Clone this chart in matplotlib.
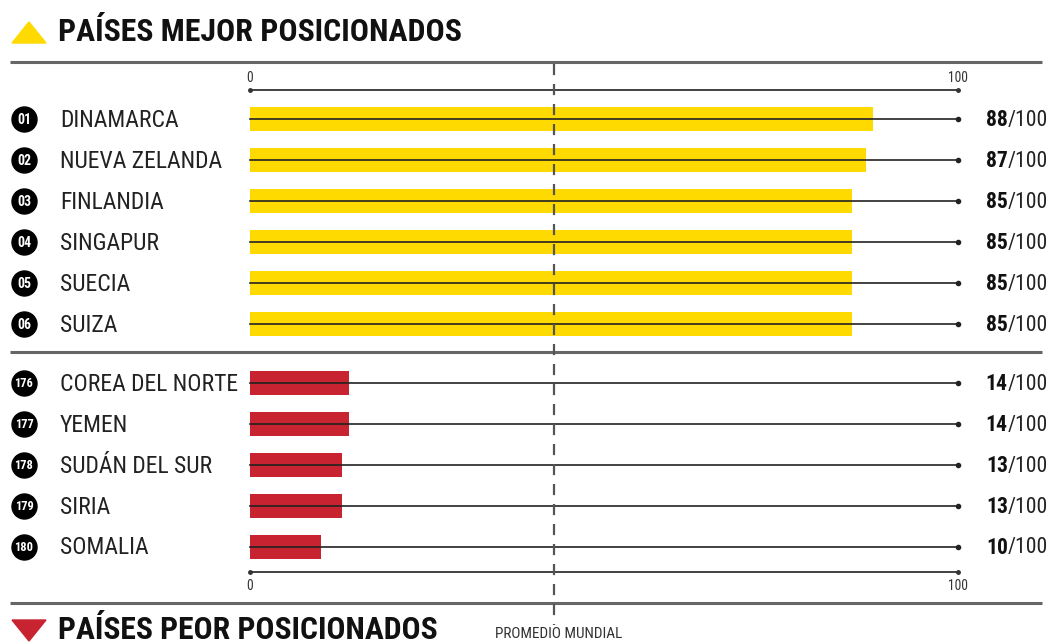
import matplotlib
matplotlib.use("Agg")
import matplotlib.pyplot as plt
from matplotlib import font_manager as fm
from matplotlib.patches import Polygon

avail = set(f.name for f in fm.fontManager.ttflist)
def pick(cands):
    for c in cands:
        if c in avail:
            return c
    return "DejaVu Sans"

FONT = pick(["Roboto Condensed", "Archivo Narrow", "Asap Condensed", "Liberation Sans Narrow", "Open Sans"])
plt.rcParams['font.family'] = [FONT, 'DejaVu Sans']

top_ranks = ["01", "02", "03", "04", "05", "06"]
top_countries = ["DINAMARCA", "NUEVA ZELANDA", "FINLANDIA", "SINGAPUR", "SUECIA", "SUIZA"]
top_scores = [88, 87, 85, 85, 85, 85]

bot_ranks = ["176", "177", "178", "179", "180"]
bot_countries = ["COREA DEL NORTE", "YEMEN", "SUDÁN DEL SUR", "SIRIA", "SOMALIA"]
bot_scores = [14, 14, 13, 13, 10]

world_avg = 43
max_score = 100

W, H = 1055, 644
fig = plt.figure(figsize=(W / 100, H / 100), dpi=100)
ax = fig.add_axes([0, 0, 1, 1])
px_per_unit = (958 - 250) / 100.0
x0 = -250 / px_per_unit
x1 = (W - 250) / px_per_unit
ax.set_xlim(x0, x1)
ax.set_ylim(H, 0)
ax.axis('off')
renderer = fig.canvas.get_renderer()

def px(p):
    return x0 + p / px_per_unit

def fit_size(s, target_w, weight='normal'):
    t = fig.text(0, 0, s, fontsize=20, fontweight=weight)
    w = t.get_window_extent(renderer=renderer).width
    t.remove()
    return 20 * target_w / w

YELLOW = "#FFDA00"
RED = "#C72330"

# separator lines
for yy in (62, 352, 603):
    ax.plot([px(10), px(1042)], [yy, yy], color="#666666", lw=2.2, solid_capstyle='butt')

# world average dashed line
ax.plot([world_avg, world_avg], [64, 625], color="#555555", lw=1.6, ls=(0, (5, 4)), zorder=4)

tick_fs = fit_size("100", 20)
for ya, yl in [(90, 78), (572, 586)]:
    ax.plot([0, max_score], [ya, ya], color="#333333", lw=1.3, zorder=3)
    ax.plot([0, max_score], [ya, ya], 'o', color="#333333", ms=2.5, zorder=3)
    ax.text(0, yl, "0", fontsize=tick_fs, ha='center', va='center', color="#333333")
    ax.text(max_score, yl, "100", fontsize=tick_fs, ha='center', va='center', color="#333333")

name_fs = fit_size("COREA DEL NORTE", 178)
score_fs_reg = fit_size("/100", 40)

def draw_rows(ranks, countries, scores, y_start, color, badge_fs):
    for i, (r, c, s) in enumerate(zip(ranks, countries, scores)):
        y = y_start + 41 * i
        ax.barh(y, s, height=24, left=0, color=color, zorder=2)
        ax.plot([0, max_score], [y, y], color="#222222", lw=1.2, zorder=3)
        ax.plot([max_score], [y], 'o', color="#222222", ms=3, zorder=3)
        ax.plot([px(24)], [y], 'o', color='black', ms=18, zorder=3)
        ax.text(px(24), y + 0.5, r, fontsize=badge_fs, color='white', ha='center', va='center',
                fontweight='bold', zorder=4)
        ax.text(px(60), y + 1, c, fontsize=name_fs, color='#222222', ha='left', va='center')
        t = ax.text(px(1048), y + 1, "/100", fontsize=score_fs_reg, color='#222222', ha='right', va='center')
        bb = t.get_window_extent(renderer=renderer)
        ax.text(px(bb.x0), y + 1, str(s), fontsize=score_fs_reg, color='#111111', ha='right', va='center',
                fontweight='bold')

draw_rows(top_ranks, top_countries, top_scores, 119, YELLOW, 10)
draw_rows(bot_ranks, bot_countries, bot_scores, 383, RED, 9)

# titles
t1 = "PAÍSES MEJOR POSICIONADOS"
t2 = "PAÍSES PEOR POSICIONADOS"
ax.add_patch(Polygon([[px(12), 43], [px(46), 43], [px(29), 22]], closed=True, color=YELLOW))
ax.text(px(58), 32, t1, fontsize=fit_size(t1, 404, 'bold'), fontweight='bold', color='#111111',
        ha='left', va='center')
ax.add_patch(Polygon([[px(12), 620], [px(46), 620], [px(29), 641]], closed=True, color=RED))
ax.text(px(58), 630, t2, fontsize=fit_size(t2, 380, 'bold'), fontweight='bold', color='#111111',
        ha='left', va='center')
p = "PROMEDIO MUNDIAL"
ax.text(px(495), 634, p, fontsize=fit_size(p, 128), color='#333333', ha='left', va='center')

fig.savefig("out.png", dpi=100)
